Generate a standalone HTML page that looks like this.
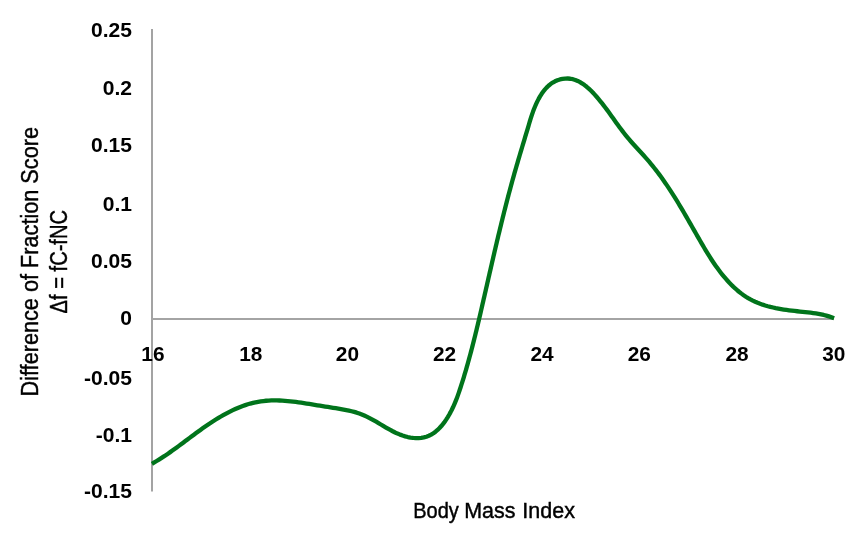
<!DOCTYPE html>
<html><head><meta charset="utf-8"><style>
html,body{margin:0;padding:0;background:#fff;width:854px;height:533px;overflow:hidden}
svg{display:block;will-change:transform}
text{font-family:"Liberation Sans",sans-serif;fill:#000}
.tick{font-weight:bold;font-size:19.5px}
.ttl{font-size:23px}
.ttl text{stroke:#000;stroke-width:0.45px}
</style></head><body>
<svg width="854" height="533" viewBox="0 0 854 533">
<rect x="0" y="0" width="854" height="533" fill="#fff"/>
<line x1="152" y1="29" x2="152" y2="491.5" stroke="#a3a3a3" stroke-width="2"/>
<line x1="152" y1="319" x2="834" y2="319" stroke="#a4a4a4" stroke-width="2"/>
<g class="tick">
<text transform="translate(132,36.71) scale(1.08,1)" text-anchor="end">0.25</text>
<text transform="translate(132,95.16) scale(1.08,1)" text-anchor="end">0.2</text>
<text transform="translate(132,151.91) scale(1.08,1)" text-anchor="end">0.15</text>
<text transform="translate(132,210.91) scale(1.08,1)" text-anchor="end">0.1</text>
<text transform="translate(132,267.61) scale(1.08,1)" text-anchor="end">0.05</text>
<text transform="translate(132,324.81) scale(1.08,1)" text-anchor="end">0</text>
<text transform="translate(132,384.71) scale(1.08,1)" text-anchor="end">-0.05</text>
<text transform="translate(132,441.91) scale(1.08,1)" text-anchor="end">-0.1</text>
<text transform="translate(132,498.11) scale(1.08,1)" text-anchor="end">-0.15</text>
<text transform="translate(152.90,361) scale(1.07,1)" text-anchor="middle">16</text>
<text transform="translate(250.80,361) scale(1.07,1)" text-anchor="middle">18</text>
<text transform="translate(347.40,361) scale(1.07,1)" text-anchor="middle">20</text>
<text transform="translate(444.60,361) scale(1.07,1)" text-anchor="middle">22</text>
<text transform="translate(542.10,361) scale(1.07,1)" text-anchor="middle">24</text>
<text transform="translate(639.30,361) scale(1.07,1)" text-anchor="middle">26</text>
<text transform="translate(737.00,361) scale(1.07,1)" text-anchor="middle">28</text>
<text transform="translate(833.80,361) scale(1.07,1)" text-anchor="middle">30</text>
</g>
<rect x="80" y="0" width="70" height="23" fill="#fff"/>
<path d="M151.92,463.77 L154.29,462.41 L156.64,461.01 L158.96,459.59 L161.25,458.14 L163.52,456.67 L165.77,455.17 L167.99,453.66 L170.20,452.13 L172.39,450.59 L174.57,449.03 L176.74,447.45 L178.89,445.87 L181.05,444.28 L183.19,442.69 L185.33,441.09 L187.48,439.48 L189.62,437.88 L191.77,436.27 L193.92,434.67 L196.09,433.08 L198.26,431.49 L200.44,429.91 L202.64,428.34 L204.86,426.79 L207.09,425.25 L209.34,423.72 L211.61,422.22 L213.90,420.74 L216.21,419.29 L218.54,417.86 L220.88,416.48 L223.24,415.12 L225.62,413.81 L228.02,412.54 L230.43,411.32 L232.87,410.14 L235.32,409.02 L237.79,407.95 L240.27,406.94 L242.77,406.00 L245.29,405.12 L247.83,404.30 L250.38,403.56 L252.96,402.89 L255.54,402.30 L258.15,401.79 L260.77,401.36 L263.40,401.02 L266.06,400.76 L268.72,400.58 L271.40,400.46 L274.09,400.42 L276.78,400.44 L279.49,400.52 L282.20,400.65 L284.91,400.84 L287.63,401.07 L290.35,401.34 L293.07,401.64 L295.79,401.98 L298.50,402.34 L301.21,402.73 L303.92,403.14 L306.62,403.55 L309.31,403.98 L311.99,404.41 L314.66,404.85 L317.31,405.27 L319.96,405.70 L322.59,406.11 L325.22,406.53 L327.84,406.95 L330.45,407.37 L333.07,407.80 L335.70,408.23 L338.32,408.68 L340.96,409.14 L343.60,409.62 L346.26,410.12 L348.91,410.66 L351.56,411.25 L354.18,411.91 L356.76,412.67 L359.31,413.52 L361.80,414.48 L364.27,415.52 L366.70,416.65 L369.10,417.84 L371.48,419.10 L373.84,420.40 L376.19,421.74 L378.53,423.11 L380.87,424.50 L383.21,425.90 L385.56,427.29 L387.91,428.65 L390.29,429.98 L392.69,431.26 L395.11,432.47 L397.56,433.60 L400.05,434.64 L402.58,435.57 L405.15,436.37 L407.77,437.04 L410.44,437.55 L413.14,437.90 L415.85,438.07 L418.55,438.05 L421.22,437.82 L423.84,437.38 L426.38,436.71 L428.83,435.80 L431.17,434.65 L433.41,433.27 L435.54,431.70 L437.57,429.95 L439.51,428.05 L441.35,426.02 L443.09,423.89 L444.74,421.67 L446.30,419.40 L447.77,417.09 L449.16,414.74 L450.47,412.37 L451.71,409.97 L452.88,407.55 L453.99,405.10 L455.05,402.64 L456.06,400.15 L457.02,397.65 L457.94,395.13 L458.83,392.60 L459.70,390.06 L460.54,387.51 L461.36,384.95 L462.18,382.39 L462.98,379.83 L463.77,377.26 L464.54,374.68 L465.31,372.10 L466.07,369.52 L466.81,366.93 L467.55,364.34 L468.27,361.75 L468.99,359.15 L469.70,356.55 L470.40,353.95 L471.09,351.34 L471.78,348.73 L472.45,346.12 L473.12,343.51 L473.79,340.89 L474.44,338.27 L475.09,335.65 L475.74,333.03 L476.38,330.40 L477.01,327.78 L477.64,325.15 L478.27,322.52 L478.89,319.90 L479.51,317.27 L480.12,314.64 L480.74,312.01 L481.35,309.37 L481.95,306.74 L482.56,304.11 L483.16,301.48 L483.76,298.85 L484.37,296.22 L484.97,293.59 L485.57,290.96 L486.17,288.34 L486.77,285.71 L487.37,283.08 L487.96,280.45 L488.56,277.83 L489.16,275.20 L489.76,272.57 L490.37,269.95 L490.97,267.33 L491.57,264.70 L492.17,262.08 L492.78,259.45 L493.39,256.83 L493.99,254.21 L494.60,251.59 L495.22,248.97 L495.83,246.35 L496.45,243.73 L497.06,241.11 L497.69,238.49 L498.31,235.87 L498.94,233.25 L499.56,230.64 L500.20,228.02 L500.83,225.40 L501.47,222.79 L502.12,220.17 L502.76,217.56 L503.41,214.95 L504.07,212.33 L504.73,209.72 L505.39,207.11 L506.06,204.50 L506.73,201.88 L507.41,199.27 L508.09,196.66 L508.78,194.05 L509.47,191.45 L510.17,188.84 L510.87,186.23 L511.58,183.62 L512.29,181.02 L513.02,178.41 L513.74,175.81 L514.48,173.20 L515.22,170.60 L515.97,167.99 L516.72,165.39 L517.48,162.79 L518.24,160.19 L519.01,157.60 L519.77,155.00 L520.55,152.41 L521.32,149.83 L522.09,147.24 L522.87,144.66 L523.64,142.09 L524.41,139.52 L525.18,136.96 L525.95,134.40 L526.72,131.85 L527.48,129.31 L528.23,126.77 L528.98,124.24 L529.74,121.72 L530.51,119.20 L531.32,116.67 L532.16,114.14 L533.05,111.60 L534.01,109.05 L535.04,106.49 L536.16,103.92 L537.36,101.38 L538.65,98.87 L540.03,96.42 L541.51,94.05 L543.10,91.78 L544.79,89.62 L546.59,87.60 L548.51,85.74 L550.55,84.05 L552.72,82.56 L555.01,81.28 L557.43,80.23 L559.94,79.43 L562.52,78.87 L565.13,78.56 L567.74,78.51 L570.32,78.74 L572.85,79.23 L575.31,79.98 L577.71,80.96 L580.04,82.16 L582.32,83.54 L584.53,85.09 L586.69,86.80 L588.79,88.62 L590.83,90.55 L592.81,92.56 L594.74,94.64 L596.61,96.75 L598.43,98.88 L600.19,101.02 L601.92,103.17 L603.60,105.33 L605.24,107.49 L606.86,109.65 L608.45,111.82 L610.02,113.99 L611.58,116.15 L613.13,118.31 L614.67,120.47 L616.21,122.63 L617.76,124.77 L619.32,126.91 L620.89,129.03 L622.49,131.15 L624.11,133.25 L625.76,135.33 L627.44,137.40 L629.17,139.45 L630.94,141.48 L632.73,143.50 L634.55,145.52 L636.38,147.52 L638.22,149.53 L640.07,151.53 L641.92,153.54 L643.75,155.56 L645.57,157.59 L647.37,159.63 L649.14,161.69 L650.88,163.77 L652.59,165.87 L654.28,167.98 L655.95,170.10 L657.59,172.24 L659.20,174.40 L660.80,176.57 L662.37,178.75 L663.92,180.95 L665.45,183.16 L666.97,185.38 L668.46,187.61 L669.94,189.85 L671.40,192.11 L672.85,194.37 L674.29,196.64 L675.71,198.92 L677.12,201.21 L678.51,203.50 L679.90,205.81 L681.28,208.11 L682.65,210.43 L684.01,212.75 L685.37,215.07 L686.71,217.40 L688.06,219.73 L689.40,222.06 L690.74,224.40 L692.07,226.74 L693.41,229.08 L694.74,231.42 L696.08,233.76 L697.42,236.10 L698.76,238.44 L700.10,240.78 L701.45,243.11 L702.81,245.44 L704.18,247.76 L705.56,250.08 L706.96,252.38 L708.37,254.68 L709.81,256.96 L711.26,259.22 L712.74,261.47 L714.25,263.71 L715.79,265.92 L717.35,268.11 L718.96,270.28 L720.59,272.43 L722.27,274.55 L723.98,276.64 L725.74,278.70 L727.55,280.74 L729.39,282.74 L731.29,284.69 L733.23,286.60 L735.22,288.45 L737.25,290.25 L739.33,291.98 L741.46,293.63 L743.63,295.21 L745.85,296.71 L748.12,298.12 L750.44,299.43 L752.81,300.65 L755.22,301.78 L757.67,302.82 L760.15,303.78 L762.67,304.67 L765.22,305.48 L767.80,306.23 L770.41,306.91 L773.04,307.53 L775.69,308.11 L778.35,308.63 L781.03,309.10 L783.72,309.54 L786.42,309.94 L789.12,310.30 L791.82,310.64 L794.53,310.96 L797.23,311.26 L799.92,311.55 L802.60,311.82 L805.27,312.10 L807.93,312.39 L810.59,312.70 L813.23,313.05 L815.87,313.43 L818.49,313.87 L821.11,314.38 L823.72,314.96 L826.33,315.63 L828.92,316.39 L831.51,317.26 L834.10,318.24" fill="none" stroke="#00741b" stroke-width="4.3" stroke-linejoin="round" stroke-linecap="butt"/>
<g class="ttl">
<text transform="translate(38,261.75) rotate(-90)" text-anchor="middle" textLength="269.5" lengthAdjust="spacingAndGlyphs">Difference of Fraction Score</text>
<text transform="translate(67,261.7) rotate(-90)" text-anchor="middle" textLength="103.4" lengthAdjust="spacingAndGlyphs">&#916;f = fC-fNC</text>
<g font-size="22.5">
<text x="413.2" y="518" textLength="45.6" lengthAdjust="spacingAndGlyphs">Body</text>
<text x="464.2" y="518" textLength="51.2" lengthAdjust="spacingAndGlyphs">Mass</text>
<text x="522.3" y="518" textLength="52.6" lengthAdjust="spacingAndGlyphs">Index</text>
</g>
</g>
</svg>
</body></html>
